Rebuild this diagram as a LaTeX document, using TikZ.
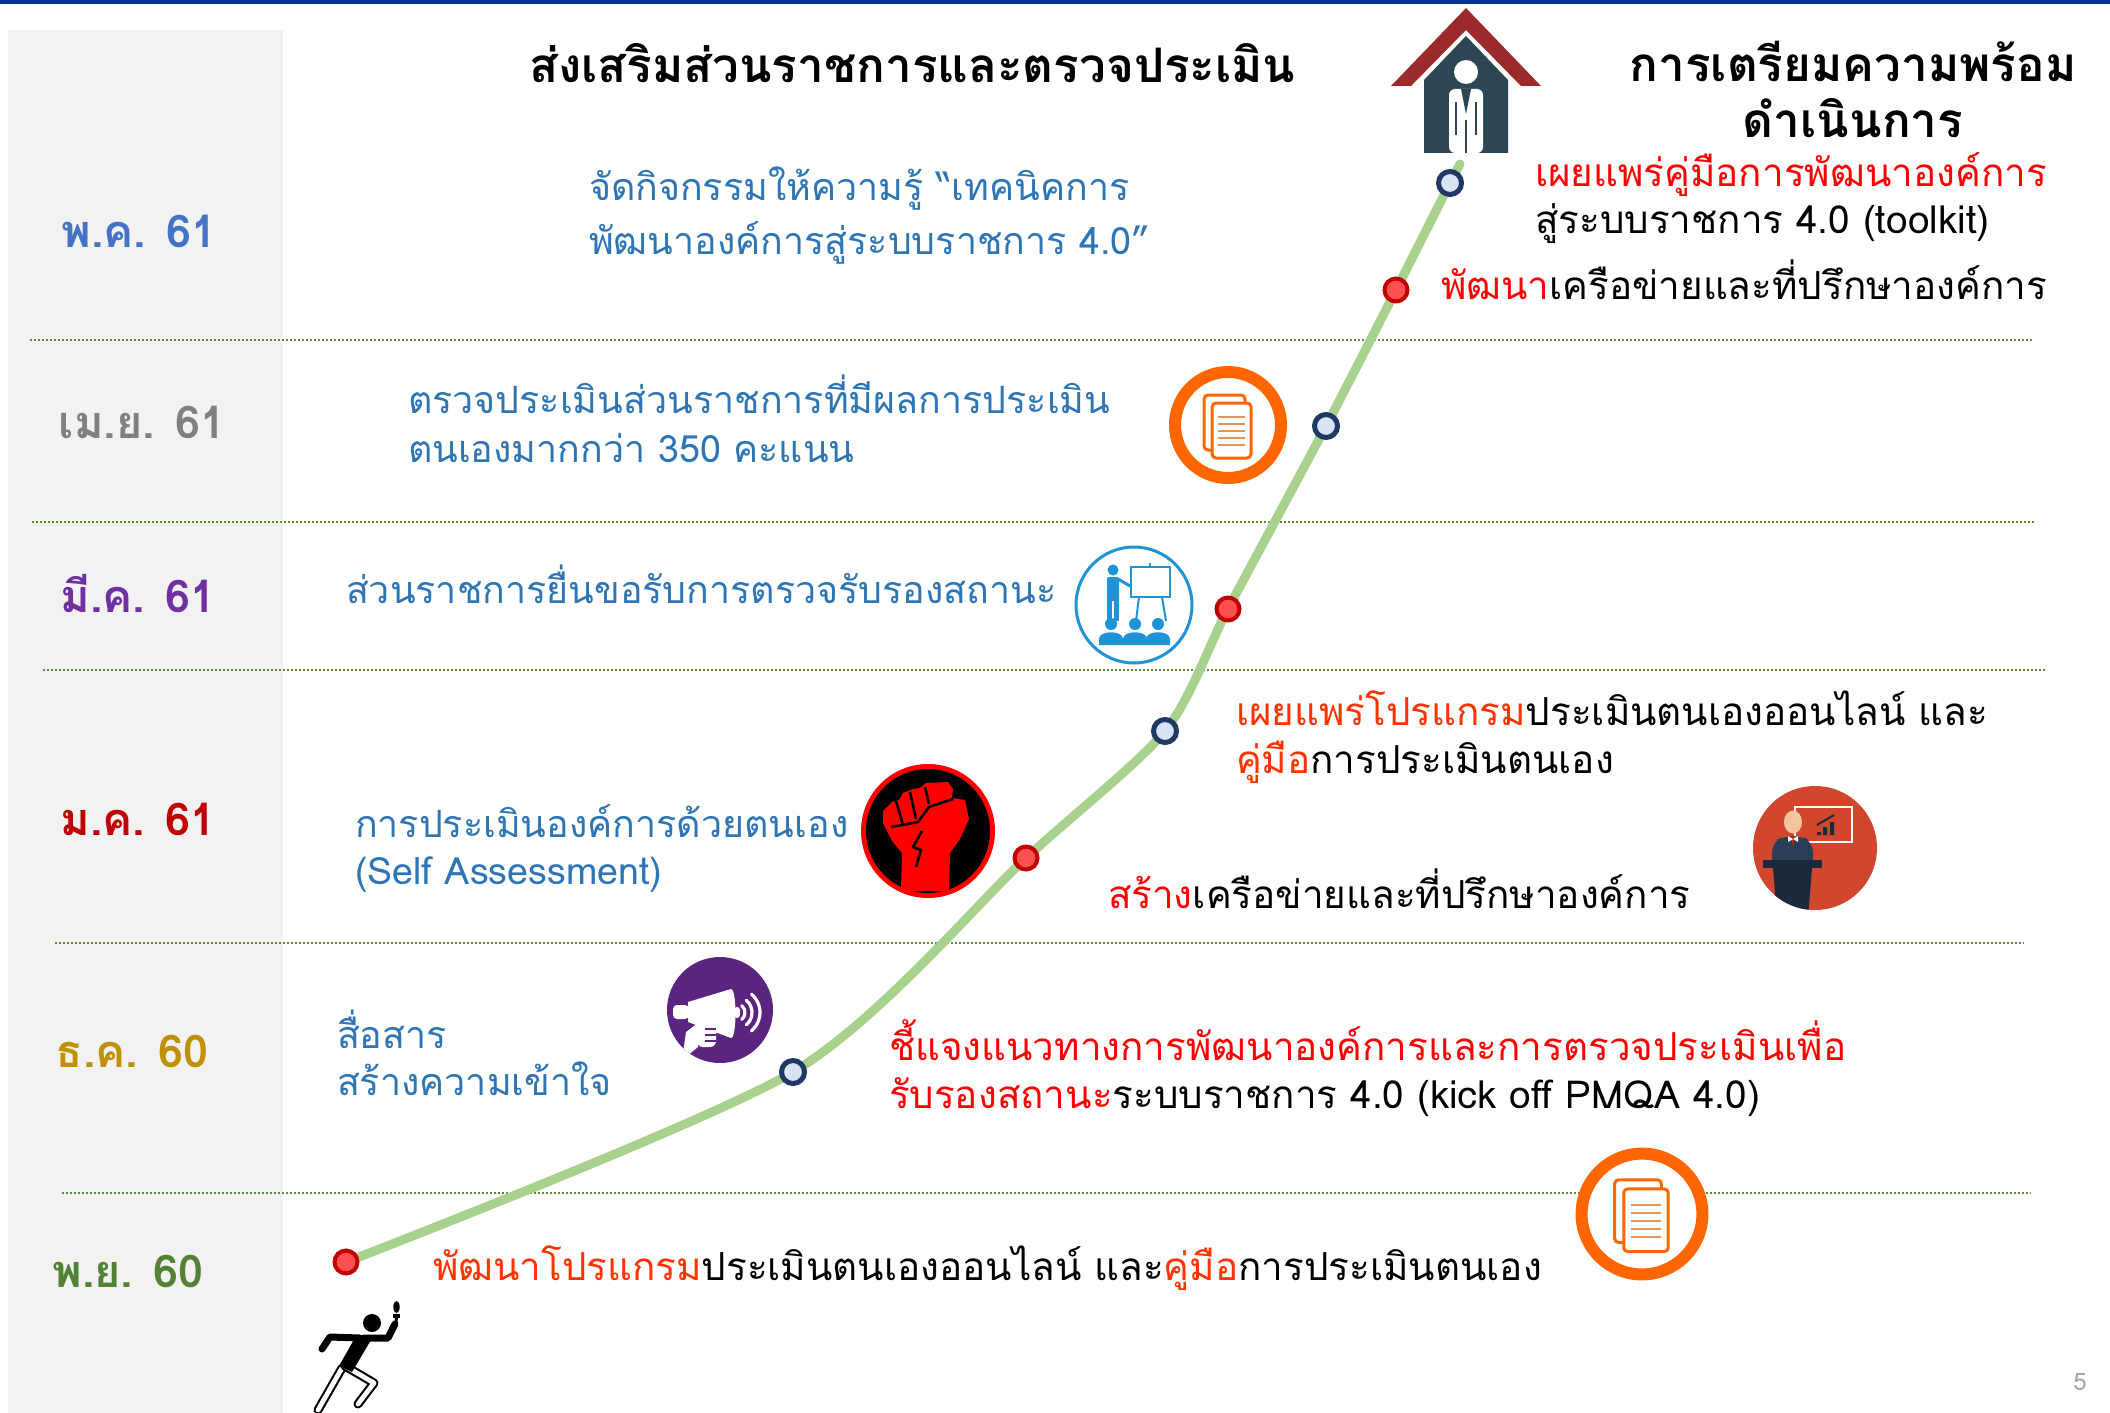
\documentclass[tikz,border=0pt]{standalone}
\usepackage{fontspec}
\setmainfont[Script=Thai]{Loma}
\usetikzlibrary{calc}

\definecolor{topblue}{HTML}{003399}
\definecolor{colgray}{HTML}{F2F2F2}
\definecolor{sepgreen}{HTML}{5B8C32}
\definecolor{curvegreen}{HTML}{A9D18E}
\definecolor{navy}{HTML}{203864}
\definecolor{navyfill}{HTML}{DAE3F3}
\definecolor{markred}{HTML}{C00000}
\definecolor{markredfill}{HTML}{FF5050}
\definecolor{txtblue}{HTML}{2E75B6}
\definecolor{hotred}{HTML}{FF0000}
\definecolor{orred}{HTML}{FF3300}
\definecolor{mayblue}{HTML}{4472C4}
\definecolor{aprgray}{HTML}{808080}
\definecolor{marpurple}{HTML}{7030A0}
\definecolor{jandark}{HTML}{C00000}
\definecolor{decgold}{HTML}{BF9000}
\definecolor{novgreen}{HTML}{548235}
\definecolor{roofred}{HTML}{9C2A2A}
\definecolor{houseslate}{HTML}{2D4654}
\definecolor{docorange}{HTML}{FF6600}
\definecolor{docline}{HTML}{E8915A}
\definecolor{presblue}{HTML}{1E93D6}
\definecolor{fistred}{HTML}{FF0000}
\definecolor{megapurple}{HTML}{5A2480}
\definecolor{speakred}{HTML}{D2462E}
\definecolor{suitblue}{HTML}{2C3E57}
\definecolor{podium}{HTML}{1B2A3B}
\definecolor{skin}{HTML}{F2C4A0}
\definecolor{pagegray}{HTML}{A6A6A6}

\begin{document}
\begin{tikzpicture}[x=0.5pt,y=-0.5pt,
  every node/.style={inner sep=0pt, outer sep=0pt},
  month/.style={font=\bfseries\fontsize{22.5pt}{26pt}\selectfont, anchor=base},
  body/.style={font=\fontsize{19.3pt}{23pt}\selectfont, anchor=base west},
  bluetxt/.style={body, font=\fontsize{18.8pt}{23pt}\selectfont, text=txtblue},
  heading/.style={font=\bfseries\fontsize{23.8pt}{28pt}\selectfont},
  sepline/.style={draw=sepgreen, line width=0.75pt, dash pattern=on 1.2pt off 0.8pt},
  timeline/.style={draw=curvegreen, line width=4.5pt, line cap=round},
  navymark/.style={circle, draw=navy, line width=2.5pt, fill=navyfill, minimum size=11.5pt},
  redmark/.style={circle, draw=markred, line width=2pt, fill=markredfill, minimum size=11.5pt},
  docpic/.pic={
    \fill[white] (0,0) circle (53);
    \draw[docorange, line width=6pt] (0,0) circle (53);
    \draw[docorange, line width=1.5pt, rounded corners=2pt, fill=white] (-24,-30) rectangle (17,25);
    \draw[docorange, line width=1.5pt, rounded corners=2pt, fill=white] (-16,-22) rectangle (23,33);
    \foreach \yy in {-8,-1,6,13,20} \draw[docline, line width=1.2pt] (-10,\yy) -- (17,\yy);
  },
  prespic/.pic={
    \fill[white] (0,0) circle (58);
    \draw[presblue, line width=1.5pt] (0,0) circle (58);
    \fill[presblue] (-21,-35) circle (5.5);
    \fill[presblue, rounded corners=1pt] (-27,-28) rectangle (-15,-4);
    \fill[presblue] (-27,-5) rectangle (-22,16);
    \fill[presblue] (-20,-5) rectangle (-15,16);
    \draw[presblue, line width=1.5pt, line cap=round] (-16,-26) -- (-4,-19);
    \draw[presblue, line width=1pt] (16,-42) -- (16,-38);
    \draw[presblue, line width=1pt] (5,-8) -- (2,16) (28,-8) -- (32,16);
    \draw[presblue, line width=1pt, fill=white] (-3,-38) rectangle (36,-8);
    \foreach \xx in {-23,1,24} {
      \fill[presblue] (\xx,19) circle (6);
      \fill[presblue] (\xx-12,40) -- (\xx-12,34) .. controls (\xx-12,25) and (\xx+12,25) .. (\xx+12,34) -- (\xx+12,40) -- cycle;
    }
  },
  fistpic/.pic={
    \fill[fistred] (0,0) circle (67);
    \fill[black] (0,0) circle (62);
    \fill[fistred] (-27,60) -- (-26,22) -- (-36,10) -- (-45,-8) -- (-45,-20) -- (-36,-29)
      -- (-29,-31) -- (-25,-38) -- (-15,-42) -- (-8,-43) -- (-2,-48) -- (20,-49) -- (25,-42)
      -- (24,-33) -- (37,-31) -- (41,-12) -- (32,8) -- (22,22) -- (21,60) -- cycle;
    \draw[black, line width=1.3pt, line join=round]
      (-32,-30) -- (-25,-6)
      (-18,-39) -- (-12,-12)
      (-3,-44) -- (1,-27)
      (-37,-4) -- (-10,-9) -- (1,-24) -- (25,-32)
      (-6,0) -- (-15,16) -- (-7,19) -- (-12,36);
  },
  megapic/.pic={
    \fill[megapurple] (0,0) circle (53);
    \begin{scope}
      \clip (0,0) circle (53);
      \fill[white] (-34,22) -- (-22,13) -- (-22,37) -- (-38,50) -- cycle;
    \end{scope}
    \fill[white, rounded corners=2pt] (-47,-5) rectangle (-31,9);
    \fill[white] (-32,-8) -- (11,-21) .. controls (17,-21) and (17,28) .. (11,28) -- (-32,12) -- cycle;
    \fill[white, rounded corners=1.5pt] (14,-3) rectangle (20,8);
    \foreach \rr in {9,16,24}
      \draw[white, line width=1.6pt, line cap=round] ($(16,2.5)+(-50:\rr)$) arc (-50:50:\rr);
    \fill[white, rounded corners=3pt] (-23,13) rectangle (-4,37);
    \draw[megapurple, line width=0.9pt] (-15,19) -- (-4,19) (-15,25) -- (-4,25) (-15,31) -- (-4,31);
  },
  speakpic/.pic={
    \fill[speakred] (0,0) circle (62);
    \draw[white, line width=1.4pt] (-20,-41) rectangle (37,-6);
    \fill[podium] (2,-16) rectangle (6,-13) (8,-21) rectangle (12,-13) (15,-26) rectangle (19,-13);
    \draw[podium, line width=1pt] (2,-23) -- (19,-33);
    \begin{scope}
      \clip (0,0) circle (62);
      \fill[suitblue, rounded corners=5pt] (-43,20) -- (-43,-6) -- (-30,-12) -- (-14,-12) -- (-2,-6) -- (-2,20) -- cycle;
      \fill[speakred!70!black] (-24,-12) -- (-20,-12) -- (-22,0) -- cycle;
      \fill[podium] (-52,12) rectangle (7,20);
      \fill[podium] (-42,20) -- (-3,20) -- (-7,70) -- (-38,70) -- cycle;
    \end{scope}
    \fill[skin] (-22,-26) ellipse [x radius=9, y radius=11.5];
    \fill[white] (-22,-9) -- (-27,-12) -- (-27,-6) -- cycle (-22,-9) -- (-17,-12) -- (-17,-6) -- cycle;
  }
]

% page and background
\fill[white] (0,0) rectangle (2110,1413);
\useasboundingbox (0,0) rectangle (2110,1413);
\fill[topblue] (0,0) rectangle (2110,4);
\fill[colgray] (8,30) rectangle (283,1413);

% month separators
\draw[sepline] (30,340) -- (2032,340);
\draw[sepline] (32,522) -- (2035,522);
\draw[sepline] (43,670) -- (2045,670);
\draw[sepline] (55,943) -- (2024,943);
\draw[sepline] (62,1193) -- (2031,1193);

% month labels
\node[month, text=mayblue]   (mMay) at (139,247)  {พ.ค. 61};
\node[month, text=aprgray]   (mApr) at (142,438)  {เม.ย. 61};
\node[month, text=marpurple] (mMar) at (138,612)  {มี.ค. 61};
\node[month, text=jandark]   (mJan) at (138,835)  {ม.ค. 61};
\node[month, text=decgold]   (mDec) at (132,1067) {ธ.ค. 60};
\node[month, text=novgreen]  (mNov) at (128,1287) {พ.ย. 60};

% column headings
\node[heading, anchor=base west] (hLeft) at (529,83) {ส่งเสริมส่วนราชการและตรวจประเมิน};
\node[heading, anchor=base] (hRight1) at (1853,82) {การเตรียมความพร้อม};
\node[heading, anchor=base] (hRight2) at (1853,138) {ดำเนินการ};

% house icon
\fill[roofred] (1466,8) -- (1541,86) -- (1521,86) -- (1466,30) -- (1411,86) -- (1391,86) -- cycle;
\fill[houseslate] (1466,36) -- (1508,80) -- (1508,153) -- (1424,153) -- (1424,80) -- cycle;
\fill[white] (1466,72) circle (12);
\fill[white, rounded corners=3pt] (1449,153) -- (1449,89) -- (1483,89) -- (1483,153) -- cycle;
\fill[houseslate] (1461,89) -- (1471,89) -- (1466,114) -- cycle;
\draw[houseslate, line width=1.2pt] (1466,120) -- (1466,153) (1456,102) -- (1456,135) (1476,102) -- (1476,135);

% timeline curve
\coordinate (p1) at (346,1262);
\coordinate (p2) at (793,1072);
\coordinate (p3) at (1026,858);
\coordinate (p4) at (1165,731);
\coordinate (p5) at (1228,609);
\coordinate (p6) at (1326,426);
\coordinate (p7) at (1396,290);
\coordinate (p8) at (1450,183);
\coordinate (p9) at (1460,164);
\draw[timeline] plot[smooth, tension=0.45] coordinates {(p1) (p2) (p3) (p4) (p5) (p6) (p7) (p8) (p9)};

% icons
\pic at (1228,425) {docpic};
\pic[scale=1.14] at (1642,1214) {docpic};
\pic at (1134,605) {prespic};
\pic at (928,831) {fistpic};
\pic at (720,1010) {megapic};
\pic at (1815,848) {speakpic};

% runner with torch
\draw[black, line width=4.5pt, line cap=round, line join=round] (342,1368) -- (318,1410);
\draw[white, line width=2.4pt, line cap=round, line join=round] (342,1368) -- (318,1410);
\draw[black, line width=4.5pt, line cap=round, line join=round] (345,1366) -- (374,1383) -- (358,1404);
\draw[white, line width=2.4pt, line cap=round, line join=round] (345,1366) -- (374,1383) -- (358,1404);
\fill[black] (356,1336) -- (371,1340) -- (352,1372) -- (339,1366) -- cycle;
\draw[black, line width=3.5pt, line cap=round, line join=round] (364,1338) -- (388,1338) -- (395,1324);
\draw[black, line width=3.5pt, line cap=round, line join=round] (360,1338) -- (330,1337) -- (322,1349);
\fill[black] (372,1323) circle (9);
\fill[black] (393,1314) rectangle (400,1318);
\draw[black, line width=1.5pt] (396.5,1318) -- (395.5,1326);
\fill[black] (396.5,1307) ellipse [x radius=3.2, y radius=6];

% markers along the curve
\node[redmark]  (m1) at (p1) {};
\node[navymark] (m2) at (p2) {};
\node[redmark]  (m3) at (p3) {};
\node[navymark] (m4) at (p4) {};
\node[redmark]  (m5) at (p5) {};
\node[navymark] (m6) at (p6) {};
\node[redmark]  (m7) at (p7) {};
\node[navymark] (m8) at (p8) {};

% left-hand activities
\node[bluetxt] (a1a) at (589,200) {จัดกิจกรรมให้ความรู้ “เทคนิคการ};
\node[bluetxt] (a1b) at (589,254) {พัฒนาองค์การสู่ระบบราชการ 4.0”};
\node[bluetxt] (a2a) at (408,413) {ตรวจประเมินส่วนราชการที่มีผลการประเมิน};
\node[bluetxt] (a2b) at (408,462) {ตนเองมากกว่า 350 คะแนน};
\node[bluetxt] (a3)  at (346,603) {ส่วนราชการยื่นขอรับการตรวจรับรองสถานะ};
\node[bluetxt] (a4a) at (355,837) {การประเมินองค์การด้วยตนเอง};
\node[bluetxt] (a4b) at (355,884) {(Self Assessment)};
\node[bluetxt] (a5a) at (337,1048) {สื่อสาร};
\node[bluetxt] (a5b) at (337,1095) {สร้างความเข้าใจ};

% right-hand preparation steps
\node[body] (b1a) at (1535,186) {\textcolor{hotred}{เผยแพร่คู่มือการพัฒนาองค์การ}};
\node[body] (b1b) at (1535,233) {สู่ระบบราชการ 4.0 (toolkit)};
\node[body] (b2)  at (1441,299) {\textcolor{hotred}{พัฒนา}เครือข่ายและที่ปรึกษาองค์การ};
\node[body] (b3a) at (1236,725) {\textcolor{orred}{เผยแพร่โปรแกรม}ประเมินตนเองออนไลน์ และ};
\node[body] (b3b) at (1236,773) {\textcolor{orred}{คู่มือ}การประเมินตนเอง};
\node[body] (b4)  at (1108,908) {\textcolor{hotred}{สร้าง}เครือข่ายและที่ปรึกษาองค์การ};
\node[body] (b5a) at (889,1060) {\textcolor{hotred}{ชี้แจงแนวทางการพัฒนาองค์การและการตรวจประเมินเพื่อ}};
\node[body] (b5b) at (889,1108) {\textcolor{hotred}{รับรองสถานะ}ระบบราชการ 4.0 (kick off PMQA 4.0)};
\node[body] (b6)  at (433,1280) {\textcolor{orred}{พัฒนาโปรแกรม}ประเมินตนเองออนไลน์ และ\textcolor{orred}{คู่มือ}การประเมินตนเอง};

% page number
\node[anchor=base, text=pagegray, font=\fontsize{12pt}{14pt}\selectfont] (pg) at (2080,1390) {5};
\end{tikzpicture}
\end{document}
